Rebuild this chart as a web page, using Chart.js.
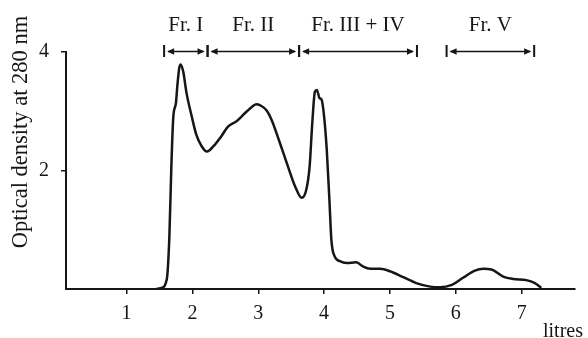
<!DOCTYPE html>
<html>
<head>
<meta charset="utf-8">
<script src="https://cdn.jsdelivr.net/npm/chart.js@4.4.1/dist/chart.umd.min.js"></script>
<style>
  html, body { margin: 0; padding: 0; background: #fff; }
  #wrap { position: relative; width: 588px; height: 338px; }
</style>
</head>
<body>
<div id="wrap"><canvas id="elution"></canvas></div>
<script>
// elution profile, volume in litres vs OD at 280 nm
const volumes = [1.45, 1.53, 1.61, 1.65, 1.68, 1.71, 1.75, 1.77, 1.80, 1.82, 1.86, 1.91, 1.99, 2.06, 2.14, 2.22,
  2.32, 2.44, 2.54, 2.67, 2.80, 2.92, 2.97, 3.03, 3.13, 3.20, 3.33, 3.45, 3.56, 3.66, 3.73, 3.78, 3.82, 3.86, 3.89,
  3.93, 3.96, 4.00, 4.04, 4.08, 4.11, 4.16, 4.24, 4.34, 4.49, 4.59, 4.70, 4.85, 5.00, 5.20, 5.40, 5.61, 5.76,
  5.94, 6.11, 6.29, 6.42, 6.54, 6.72, 6.87, 7.07, 7.20, 7.30];
const density = [0, 0.02, 0.16, 0.89, 2.07, 2.91, 3.14, 3.42, 3.73, 3.79, 3.67, 3.31, 2.91, 2.60, 2.41, 2.32,
  2.41, 2.58, 2.74, 2.83, 2.97, 3.09, 3.12, 3.10, 3.01, 2.86, 2.46, 2.07, 1.73, 1.54, 1.68, 2.07, 2.80, 3.33, 3.36,
  3.22, 3.20, 2.91, 2.35, 1.51, 0.83, 0.55, 0.47, 0.44, 0.45, 0.38, 0.34, 0.34, 0.30, 0.20, 0.10, 0.04, 0.03,
  0.07, 0.19, 0.31, 0.34, 0.33, 0.21, 0.17, 0.15, 0.10, 0.02];

const xTicks = [1, 2, 3, 4, 5, 6, 7];
const yTicks = [2, 4];

const fracLabels = ['Fr. I', 'Fr. II', 'Fr. III + IV', 'Fr. V'];
const fracStart = [1.57, 2.23, 3.62, 5.86];
const fracEnd = [2.23, 3.62, 5.41, 7.19];

const ink = '#161616';
const serif = '"Liberation Serif", "DejaVu Serif", serif';

const fractionPlugin = {
  id: 'fractions',
  afterDraw: function (chart) {
    const ctx = chart.ctx;
    const xs = chart.scales.x;
    ctx.save();
    ctx.strokeStyle = ink;
    ctx.fillStyle = ink;
    ctx.lineWidth = 2;

    for (let i = 0; i < fracLabels.length; i += 1) {
      const x1 = xs.getPixelForValue(fracStart[i]);
      const x2 = xs.getPixelForValue(fracEnd[i]);
      const y = 51.5;

      ctx.beginPath();
      ctx.moveTo(x1, 45); ctx.lineTo(x1, 57);
      ctx.moveTo(x2, 45); ctx.lineTo(x2, 57);
      ctx.stroke();

      ctx.lineWidth = 1.6;
      ctx.beginPath();
      ctx.moveTo(x1 + 4, y); ctx.lineTo(x2 - 4, y);
      ctx.stroke();
      ctx.lineWidth = 2;

      ctx.beginPath();
      ctx.moveTo(x1 + 3, y); ctx.lineTo(x1 + 10, y - 3.2); ctx.lineTo(x1 + 10, y + 3.2); ctx.closePath();
      ctx.moveTo(x2 - 3, y); ctx.lineTo(x2 - 10, y - 3.2); ctx.lineTo(x2 - 10, y + 3.2); ctx.closePath();
      ctx.fill();

      ctx.font = '21px ' + serif;
      ctx.textAlign = 'center';
      ctx.textBaseline = 'middle';
      ctx.fillText(fracLabels[i], (x1 + x2) / 2, 25);
    }

    // axis titles
    ctx.font = '20px ' + serif;
    ctx.textAlign = 'left';
    ctx.textBaseline = 'alphabetic';
    ctx.fillText('litres', 543, 337);

    ctx.font = '22.5px ' + serif;
    ctx.textAlign = 'center';
    ctx.translate(21, 132);
    ctx.rotate(-Math.PI / 2);
    ctx.textBaseline = 'middle';
    ctx.fillText('Optical density at 280 nm', 0, 0);
    ctx.restore();
  }
};

new Chart(document.getElementById('elution'), {
  type: 'line',
  data: {
    datasets: [{
      data: volumes.map(function (v, i) { return { x: v, y: density[i] }; }),
      borderColor: ink,
      borderWidth: 2.5,
      pointRadius: 0,
      fill: false,
      cubicInterpolationMode: 'monotone'
    }]
  },
  options: {
    responsive: true,
    maintainAspectRatio: false,
    animation: false,
    layout: { padding: { top: 52, right: 13, left: 0, bottom: 0 } },
    plugins: { legend: { display: false }, tooltip: { enabled: false } },
    scales: {
      x: {
        type: 'linear',
        min: 0.08,
        max: 7.81,
        afterBuildTicks: function (scale) { scale.ticks = xTicks.map(function (v) { return { value: v }; }); },
        afterFit: function (scale) { scale.height = 49; },
        border: { color: ink, width: 2 },
        grid: { drawOnChartArea: false, drawTicks: true, tickLength: 5, color: ink, lineWidth: 1.5 },
        ticks: { color: ink, font: { family: serif, size: 20 }, padding: 8, maxRotation: 0 }
      },
      y: {
        min: 0,
        max: 4,
        afterBuildTicks: function (scale) { scale.ticks = yTicks.map(function (v) { return { value: v }; }); },
        afterFit: function (scale) { scale.width = 66; },
        border: { color: ink, width: 2 },
        grid: { drawOnChartArea: false, drawTicks: true, tickLength: 5, color: ink, lineWidth: 1.5 },
        ticks: { color: ink, font: { family: serif, size: 20 }, padding: 12 }
      }
    }
  },
  plugins: [fractionPlugin]
});
</script>
</body>
</html>
